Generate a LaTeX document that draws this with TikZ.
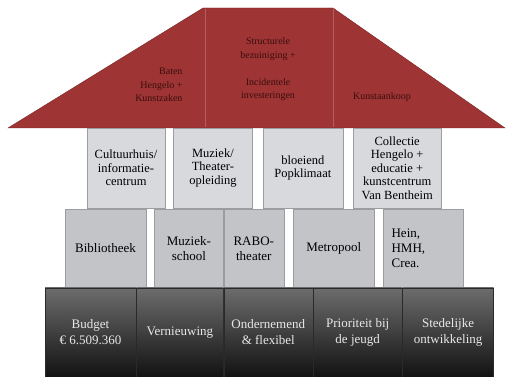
\documentclass[tikz,border=0pt]{standalone}
\usepackage{fontspec}
\setmainfont{Liberation Serif}
\usetikzlibrary{positioning}

\definecolor{roofred}{HTML}{9E3434}
\definecolor{roofedge}{HTML}{7A2424}
\definecolor{roofline}{HTML}{B06060}
\definecolor{roofink}{HTML}{3B0E0E}
\definecolor{upperfill}{HTML}{D8D9DD}
\definecolor{lowerfill}{HTML}{C3C4C8}
\definecolor{boxedge}{HTML}{9C9DA1}
\definecolor{basetop}{HTML}{6C6C6C}
\definecolor{basebottom}{HTML}{121212}
\definecolor{baseedge}{HTML}{2A2A2A}
\definecolor{baseink}{HTML}{E8E8E8}

\begin{document}
\begin{tikzpicture}[x=1pt,y=-1pt,
    roofsec/.style={font=\fontsize{10}{13.5}\selectfont, text=roofink, align=center},
    upperbox/.style={draw=boxedge, fill=upperfill, minimum height=80pt, align=center,
      font=\fontsize{12.5}{13.5}\selectfont},
    lowerbox/.style={draw=boxedge, fill=lowerfill, minimum height=79pt, align=center,
      font=\fontsize{13}{15}\selectfont},
    basebox/.style={draw=baseedge, top color=basetop, bottom color=basebottom,
      minimum height=89pt, align=center, text=baseink, font=\fontsize{13}{16}\selectfont}]
    \useasboundingbox (0,0) rectangle (507,377);

    % roof
    \fill[roofred, draw=roofedge] (8,128) -- (203,8) -- (333,8) -- (505,128) -- cycle;
    \draw[roofline] (205,9) -- (205,127) (333,9) -- (333,127);
    \node[roofsec, anchor=east, align=right] (baten) at (186,85) {Baten\\Hengelo +\\Kunstzaken};
    \node[roofsec] (structureel) at (268,69.5) {Structurele\\bezuiniging +\\[13.5pt]Incidentele\\investeringen};
    \node[roofsec] (aankoop) at (382,97) {Kunstaankoop};

    % upper row
    \node[upperbox, minimum width=78pt] (cultuur) at (126,168) {Cultuurhuis/\\informatie-\\centrum};
    \node[upperbox, minimum width=79pt, right=8pt of cultuur] (muziek) {Muziek/\\Theater-\\opleiding};
    \node[upperbox, minimum width=80pt, right=10pt of muziek] (pop) {bloeiend\\Popklimaat};
    \node[upperbox, minimum width=88pt, right=10pt of pop] (collectie) {Collectie\\Hengelo +\\educatie +\\kunstcentrum\\Van Bentheim};

    % lower row
    \node[lowerbox, minimum width=81pt] (biblio) at (105.5,248.5) {Bibliotheek};
    \node[lowerbox, minimum width=69pt, right=8pt of biblio] (muziekschool) {Muziek-\\school};
    \node[lowerbox, minimum width=60pt, right=0pt of muziekschool] (rabo) {RABO-\\theater};
    \node[lowerbox, minimum width=81pt, right=9pt of rabo] (metropool) {Metropool};
    \node[lowerbox, minimum width=80pt, right=9pt of metropool, align=left, text width=64pt] (hein) {Hein,\\HMH,\\Crea.};

    % foundation
    \node[basebox, minimum width=91pt] (budget) at (90.5,332.5) {Budget\\€ 6.509.360};
    \node[basebox, minimum width=87pt, right=0pt of budget] (vernieuwing) {Vernieuwing};
    \node[basebox, minimum width=89pt, right=0pt of vernieuwing] (ondernemend) {Ondernemend\\\& flexibel};
    \node[basebox, minimum width=89pt, right=0pt of ondernemend] (jeugd) {Prioriteit bij\\de jeugd};
    \node[basebox, minimum width=91pt, right=0pt of jeugd] (stedelijk) {Stedelijke\\ontwikkeling};
\end{tikzpicture}
\end{document}
